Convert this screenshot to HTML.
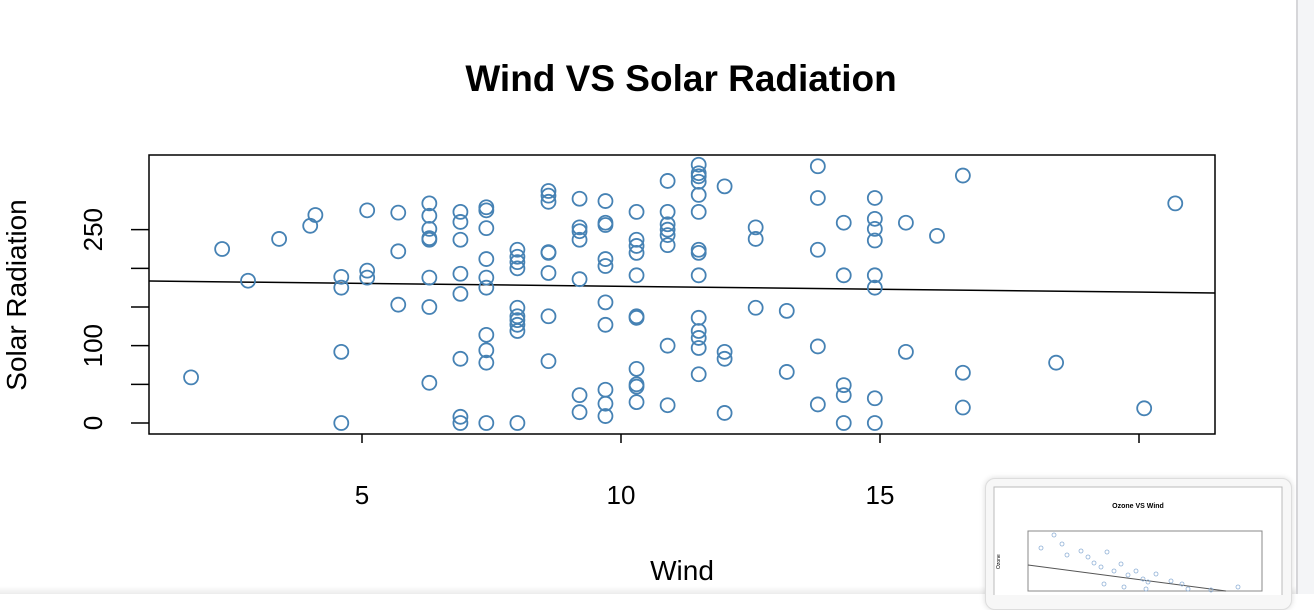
<!DOCTYPE html>
<html><head><meta charset="utf-8"><style>
html,body{margin:0;padding:0;width:1314px;height:594px;overflow:hidden;background:#fff;font-family:"Liberation Sans",Arial,sans-serif}
#side{position:absolute;left:1296px;top:0;width:18px;height:594px;background:#f4f5f7;border-left:2px solid #d6d6d9}
#bottom{position:absolute;left:0;top:586px;width:1296px;height:8px;background:linear-gradient(#fff,#ececec)}
#thumb{position:absolute;left:985px;top:478px;width:305px;height:130px;background:#f7f7f7;border:1px solid #ddd;border-radius:10px;box-shadow:0 0 6px rgba(0,0,0,.15)}
</style></head><body>
<svg id="chart" width="1296" height="594" style="position:absolute;left:0;top:0" xmlns="http://www.w3.org/2000/svg"></svg>
<div id="bottom"></div>
<div id="side"></div>
<div id="thumb">
<svg width="305" height="116" style="position:absolute;left:0;top:0">
<rect x="8" y="8" width="288" height="120" fill="#fff" stroke="#bbb"/>
<text x="152" y="29" font-size="7" font-weight="bold" text-anchor="middle" font-family="Liberation Sans">Ozone VS Wind</text>
<rect x="42" y="52" width="234" height="60" fill="none" stroke="#888"/>
<line x1="42" y1="86" x2="240" y2="112" stroke="#555"/>
<g fill="none" stroke="#8fb0d6" stroke-width="0.8">
<circle cx="55" cy="69" r="2"/><circle cx="68" cy="56" r="2"/><circle cx="76" cy="65" r="2"/><circle cx="81" cy="76" r="2"/><circle cx="95" cy="72" r="2"/><circle cx="102" cy="78" r="2"/><circle cx="108" cy="84" r="2"/><circle cx="115" cy="88" r="2"/><circle cx="121" cy="73" r="2"/><circle cx="128" cy="92" r="2"/><circle cx="135" cy="85" r="2"/><circle cx="142" cy="96" r="2"/><circle cx="150" cy="92" r="2"/><circle cx="157" cy="100" r="2"/><circle cx="162" cy="103" r="2"/><circle cx="170" cy="95" r="2"/><circle cx="185" cy="102" r="2"/><circle cx="196" cy="105" r="2"/><circle cx="202" cy="110" r="2"/><circle cx="225" cy="111" r="2"/><circle cx="252" cy="108" r="2"/><circle cx="118" cy="105" r="2"/><circle cx="138" cy="108" r="2"/><circle cx="160" cy="110" r="2"/>
</g>
<text x="14" y="90" font-size="5" transform="rotate(-90 14 90)" font-family="Liberation Sans">Ozone</text>
</svg></div>
<script>
const winds=[1.7,2.3,2.8,3.4,4.0,4.1,4.6,4.6,4.6,4.6,5.1,5.1,5.1,5.7,5.7,5.7,6.3,6.3,6.3,6.3,6.3,6.3,6.3,6.3,6.9,6.9,6.9,6.9,6.9,6.9,6.9,6.9,7.4,7.4,7.4,7.4,7.4,7.4,7.4,7.4,7.4,7.4,8.0,8.0,8.0,8.0,8.0,8.0,8.0,8.0,8.0,8.0,8.6,8.6,8.6,8.6,8.6,8.6,8.6,8.6,9.2,9.2,9.2,9.2,9.2,9.2,9.2,9.7,9.7,9.7,9.7,9.7,9.7,9.7,9.7,9.7,9.7,10.3,10.3,10.3,10.3,10.3,10.3,10.3,10.3,10.3,10.3,10.3,10.9,10.9,10.9,10.9,10.9,10.9,10.9,10.9,11.5,11.5,11.5,11.5,11.5,11.5,11.5,11.5,11.5,11.5,11.5,11.5,11.5,11.5,12.0,12.0,12.0,12.0,12.6,12.6,12.6,13.2,13.2,13.8,13.8,13.8,13.8,13.8,14.3,14.3,14.3,14.3,14.3,14.9,14.9,14.9,14.9,14.9,14.9,14.9,14.9,15.5,15.5,16.1,16.6,16.6,16.6,18.4,20.1,20.7];
const solar=[59,225,184,238,255,269,0,92,189,175,275,197,188,272,222,153,284,268,251,239,237,188,150,52,273,260,237,193,167,83,8,0,279,275,252,212,188,175,114,94,78,0,224,215,208,200,149,138,133,127,119,0,300,294,286,221,220,194,138,80,290,253,248,237,186,36,14,287,259,256,212,203,156,127,43,25,9,273,237,229,220,191,138,136,70,50,47,27,313,273,257,250,243,230,100,23,334,323,319,312,295,273,224,220,191,136,119,110,97,63,306,92,83,13,253,238,149,145,66,332,291,224,99,24,259,191,49,36,0,291,264,251,236,191,175,32,0,259,92,242,320,65,20,78,19,284];
const fitIntercept=[184.3];
const fitSlope=[-0.753];
const xTicks=[5,10,15,20];
const yTicks=[0,50,100,150,200,250];
const yLabels=["0","","100","","","250"];
const svg=document.getElementById('chart');
const NS='http://www.w3.org/2000/svg';
const L=149,R=1215,T=155,B=434;
const X=v=>362+(v-5)*51.8;
const Y=v=>423-v*0.7733;
function mk(t,a,txt){const e=document.createElementNS(NS,t);for(const k in a)e.setAttribute(k,a[k]);if(txt!==undefined)e.textContent=txt;svg.appendChild(e);return e;}
let e=mk('text',{x:681,y:91,'font-size':37,'font-weight':'bold','text-anchor':'middle'},'Wind VS Solar Radiation');


e=mk('rect',{x:L,y:T,width:R-L,height:B-T,fill:'none',stroke:'#000','stroke-width':1.5});


xTicks.forEach(t=>{
 const x=X(t);
 e=mk('line',{x1:x,y1:B,x2:x,y2:B+9,stroke:'#000','stroke-width':1.5});
 
 
 e=mk('text',{x:x,y:B+70,'font-size':26,'text-anchor':'middle'},String(t));
 
 
});
yTicks.forEach((t,i)=>{
 const y=Y(t);
 e=mk('line',{x1:L-18,y1:y,x2:L,y2:y,stroke:'#000','stroke-width':1.5});
 
 
 if(yLabels[i]){
 e=mk('text',{x:102,y:y,'font-size':26,'text-anchor':'middle',transform:`rotate(-90 102 ${y})`},yLabels[i]);
 
 }
});
e=mk('text',{x:682,y:580,'font-size':28,'text-anchor':'middle'},'Wind');


e=mk('text',{x:26,y:295,'font-size':28,'text-anchor':'middle',transform:'rotate(-90 26 295)'},'Solar Radiation');


const a=fitIntercept[0],b=fitSlope[0];
const wL=5+(L-362)/51.8,wR=5+(R-362)/51.8;
e=mk('line',{x1:L,y1:Y(a+b*wL),x2:R,y2:Y(a+b*wR),stroke:'#000','stroke-width':1.5});


for(let i=0;i<winds.length;i++){
 e=mk('circle',{cx:X(winds[i]),cy:Y(solar[i]),r:7,fill:'none',stroke:'#4682b4','stroke-width':1.8});
 
 
}
</script>
</body></html>
